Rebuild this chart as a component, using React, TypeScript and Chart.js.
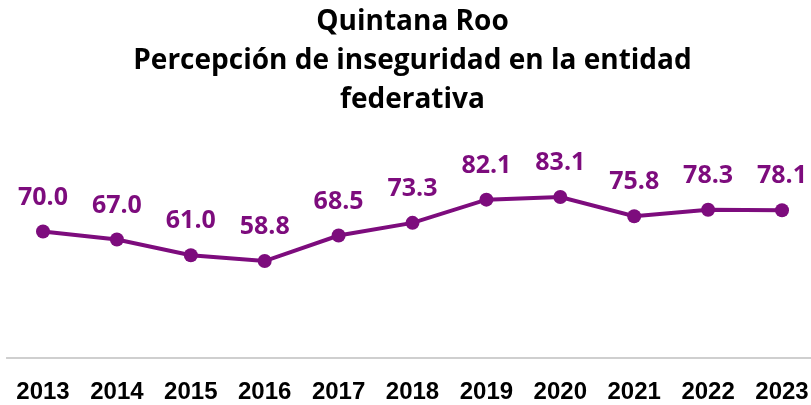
import React, { useEffect, useRef } from "react";
import { Chart, registerables } from "chart.js";

Chart.register(...registerables);

const titleLines = ["Quintana Roo", "Percepción de inseguridad en la entidad", "federativa"];
const years = ["2013", "2014", "2015", "2016", "2017", "2018", "2019", "2020", "2021", "2022", "2023"];
const perception = [70.0, 67.0, 61.0, 58.8, 68.5, 73.3, 82.1, 83.1, 75.8, 78.3, 78.1];

const PURPLE = "#7d0c7d";

const baselinePlugin = {
  id: "baseline",
  beforeDatasetsDraw(chart: any) {
    const { ctx, chartArea, scales } = chart;
    const x = scales.x;
    const step = x.getPixelForValue(1) - x.getPixelForValue(0);
    ctx.save();
    ctx.strokeStyle = "#cfcfcf";
    ctx.lineWidth = 2;
    ctx.beginPath();
    ctx.moveTo(chartArea.left - step / 2, chartArea.bottom);
    ctx.lineTo(chartArea.right + step / 2, chartArea.bottom);
    ctx.stroke();
    ctx.restore();
  },
};

const labelPlugin = {
  id: "valueLabels",
  afterDatasetsDraw(chart: any) {
    const { ctx } = chart;
    const meta = chart.getDatasetMeta(0);
    ctx.save();
    ctx.fillStyle = PURPLE;
    ctx.font = "bold 25px 'Open Sans'";
    ctx.textAlign = "center";
    ctx.textBaseline = "middle";
    meta.data.forEach((pt: any, i: number) => {
      const v = chart.data.datasets[0].data[i] as number;
      ctx.fillText(v.toFixed(1), pt.x, pt.y - 34);
    });
    ctx.restore();
  },
};

export default function App() {
  const ref = useRef<HTMLCanvasElement | null>(null);
  useEffect(() => {
    document.body.style.margin = "0";
    const chart = new Chart(ref.current as HTMLCanvasElement, {
      type: "line",
      data: {
        labels: years,
        datasets: [
          {
            data: perception,
            borderColor: PURPLE,
            backgroundColor: PURPLE,
            borderWidth: 4,
            pointRadius: 7,
            pointHoverRadius: 7,
            pointBackgroundColor: PURPLE,
            pointBorderColor: PURPLE,
            pointBorderWidth: 0,
            tension: 0,
          },
        ],
      },
      options: {
        animation: false,
        responsive: false,
        maintainAspectRatio: false,
        layout: { padding: { left: 43, right: 29, top: 0, bottom: 0 } },
        plugins: {
          legend: { display: false },
          tooltip: { enabled: false },
          title: {
            display: true,
            text: titleLines,
            color: "#000000",
            font: { family: "'Open Sans'", size: 28, weight: "bold", lineHeight: 1.393 },
            padding: { top: 3, bottom: 32.5 },
          },
        },
        scales: {
          x: {
            offset: false,
            grid: { display: false },
            border: { display: false },
            ticks: {
              color: "#000000",
              padding: 12,
              font: { family: "'Liberation Sans'", size: 24, weight: "bold" },
              maxRotation: 0,
              autoSkip: false,
            },
            afterFit(scale: any) {
              scale.height = 47;
              scale.paddingLeft = 27;
              scale.paddingRight = 27;
            },
          },
          y: {
            display: false,
            min: 22,
            max: 100,
          },
        },
      },
      plugins: [baselinePlugin, labelPlugin],
    });
    return () => chart.destroy();
  }, []);
  return <canvas ref={ref} width={811} height={405} style={{ display: "block" }} />;
}
